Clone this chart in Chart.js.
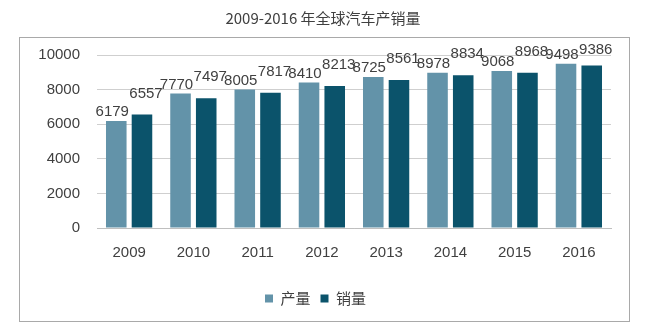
<!DOCTYPE html>
<html>
<head>
<meta charset="utf-8">
<script src="https://cdn.jsdelivr.net/npm/chart.js@4/dist/chart.umd.min.js"></script>
<style>
  body { margin: 0; background: #fff; }
  #wrap { width: 646px; height: 326px; }
</style>
</head>
<body>
<div id="wrap"><canvas id="carChart"></canvas></div>
<script>
const years = ["2009", "2010", "2011", "2012", "2013", "2014", "2015", "2016"];
const production = [6179, 7770, 8005, 8410, 8725, 8978, 9068, 9498];
const sales = [6557, 7497, 7817, 8213, 8561, 8834, 8968, 9386];
const seriesNames = ["产量", "销量"];
const yTicks = [0, 2000, 4000, 6000, 8000, 10000];
const chartTitle = "2009-2016 年全球汽车产销量";

// frame, title and value labels
const decorPlugin = {
  id: "decor",
  beforeDraw(chart) {
    const ctx = chart.ctx;
    ctx.save();
    ctx.fillStyle = "#fff";
    ctx.fillRect(0, 0, chart.width, chart.height);
    ctx.strokeStyle = "#a9a9a9";
    ctx.lineWidth = 1;
    ctx.strokeRect(19.5, 37.5, 610, 284);
    ctx.fillStyle = "#404040";
    ctx.font = "15px 'Noto Sans CJK SC', sans-serif";
    ctx.textAlign = "center";
    ctx.textBaseline = "middle";
    ctx.fillText(chartTitle, 323, 18);
    ctx.restore();
  },
  afterDatasetsDraw(chart) {
    const ctx = chart.ctx;
    ctx.save();
    ctx.font = "15px 'Liberation Sans', Arial, sans-serif";
    ctx.fillStyle = "#404040";
    ctx.textAlign = "center";
    ctx.textBaseline = "middle";
    chart.data.datasets.forEach((ds, di) => {
      const meta = chart.getDatasetMeta(di);
      meta.data.forEach((bar, i) => {
        const dx = di === 0 ? -4 : 4;
        let dy = di === 0 ? -9 : -21;
        let y = bar.y + dy;
        if (y < 50) y = 50;
        ctx.fillText(ds.data[i], bar.x + dx, y);
      });
    });
    ctx.restore();
  }
};

new Chart(document.getElementById("carChart"), {
  type: "bar",
  data: {
    labels: years,
    datasets: [
      {
        label: seriesNames[0],
        data: production,
        backgroundColor: "#6393a9",
      },
      {
        label: seriesNames[1],
        data: sales,
        backgroundColor: "#0b536b",
      },
    ],
  },
  options: {
    responsive: true,
    maintainAspectRatio: false,
    animation: false,
    devicePixelRatio: 1,
    layout: { padding: { left: 20, right: 35, top: 55, bottom: 10 } },
    datasets: { bar: { categoryPercentage: 0.8, barPercentage: 0.8 } },
    plugins: {
      tooltip: { enabled: false },
      legend: {
        position: "bottom",
        labels: {
          boxWidth: 8,
          boxHeight: 8,
          padding: 10,
          color: "#404040",
          font: { size: 15, family: "'Noto Sans CJK SC', sans-serif" },
        },
      },
    },
    scales: {
      x: {
        grid: { display: false, drawTicks: false },
        border: { display: true, color: "#bfbfbf" },
        ticks: {
          padding: 16,
          color: "#404040",
          font: { size: 15, family: "'Liberation Sans', Arial, sans-serif" },
        },
        afterFit(scale) { scale.height = 53; },
      },
      y: {
        min: 0,
        max: 10000,
        grid: { color: "#cfcfcf", drawTicks: false },
        border: { display: false },
        afterBuildTicks(scale) {
          scale.ticks = yTicks.map((v) => ({ value: v }));
        },
        ticks: {
          padding: 17,
          color: "#404040",
          font: { size: 15, family: "'Liberation Sans', Arial, sans-serif" },
          callback: (v) => String(v),
        },
        afterFit(scale) { scale.width = 77; },
      },
    },
  },
  plugins: [decorPlugin],
});
</script>
</body>
</html>
